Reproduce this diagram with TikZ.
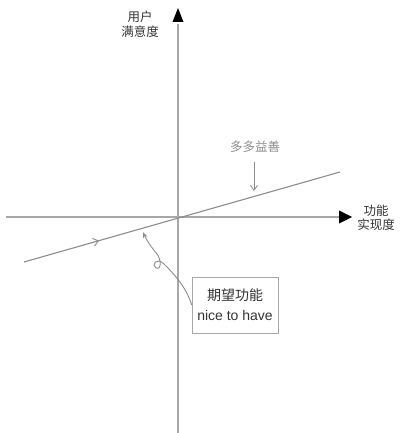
\documentclass[tikz,border=0pt]{standalone}
\usepackage{fontspec}
\setmainfont{Liberation Sans}
\newfontfamily\cjk{Noto Sans CJK SC}
\usetikzlibrary{arrows.meta,decorations.markings}
\definecolor{axisgray}{HTML}{A8A8A8}
\definecolor{linegray}{HTML}{8C8C8C}
\definecolor{txtgray}{HTML}{333333}
\tikzset{
  axisline/.style={draw=axisgray,line width=1.3pt},
  lbl/.style={font=\cjk\fontsize{12.5}{14.5}\selectfont,text=txtgray,align=center,inner sep=0pt},
  boxlbl/.style={draw=axisgray,line width=0.6pt,fill=white,font=\fontsize{14}{20}\selectfont,text=txtgray,align=center,minimum width=86pt,minimum height=56pt,inner sep=0pt},
  pointer/.style={draw=linegray,line width=0.9pt,-{Stealth[length=6pt,width=4.5pt]}},
}
\begin{document}
\begin{tikzpicture}[x=1pt,y=-1pt]
\useasboundingbox (0,0) rectangle (402,433);
\coordinate (ytop) at (178,8);
\coordinate (ybot) at (178,433);
\coordinate (xleft) at (6,217);
\coordinate (xright) at (352,217);
\coordinate (ls) at (24,262);
\coordinate (le) at (340,172);
\coordinate (tip) at (143,232);
\coordinate (dtop) at (254,162);
\coordinate (dbot) at (254,191);
% axes
\draw[axisline] (ybot) -- (178,24);
\fill[black] (ytop) -- (172.5,22) -- (183.5,22) -- cycle;
\draw[axisline] (xleft) -- (340,217);
\fill[black] (xright) -- (339,210.5) -- (339,223.5) -- cycle;
% labels
\node[lbl] (ylab) at (140,24) {用户\\满意度};
\node[lbl] (xlab) at (376,218) {功能\\实现度};
\node[lbl,text=linegray] (more) at (255,147) {多多益善};
% diagonal line
\draw[draw=linegray,line width=1.1pt,
  postaction={decorate},
  decoration={markings,mark=at position 0.235 with {\draw[linegray,line width=0.9pt] (-5,-4) -- (0,0) -- (-5,4);}}]
  (ls) -- (le);
% down arrow
\draw[draw=linegray,line width=0.8pt,-{Straight Barb[length=5pt,width=7pt]}] (dtop) -- (dbot);
% box
\node[boxlbl] (box) at (235,305) {{\cjk 期望功能}\\nice to have};
% curly pointer
\draw[pointer] (box.west) .. controls (186,286) and (172,272) .. (164,264)
  .. controls (156,256) and (151,266) .. (156,268)
  .. controls (162,270) and (161,259) .. (157,254)
  .. controls (151,247) and (146,239) .. (tip);
\end{tikzpicture}
\end{document}
